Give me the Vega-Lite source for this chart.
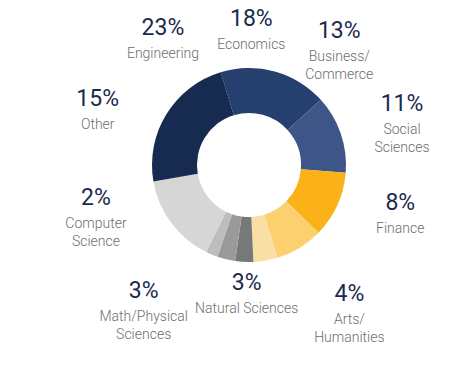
{
  "$schema": "https://vega.github.io/schema/vega-lite/v6.json",
  "autosize": "none",
  "width": 450,
  "height": 330,
  "padding": {"left": 24, "top": 0, "right": 0, "bottom": 40},
  "background": "white",
  "view": {"stroke": null},
  "config": {"font": "Roboto"},
  "data": {"values": [
    {"order": 1, "category": "Economics", "label": "Economics", "share": 0.18},
    {"order": 2, "category": "Business/Commerce", "label": "Business/\nCommerce", "share": 0.13},
    {"order": 3, "category": "Social Sciences", "label": "Social\nSciences", "share": 0.11},
    {"order": 4, "category": "Finance", "label": "Finance", "share": 0.08},
    {"order": 5, "category": "Arts/Humanities", "label": "Arts/\nHumanities", "share": 0.04},
    {"order": 6, "category": "Natural Sciences", "label": "Natural Sciences", "share": 0.03},
    {"order": 7, "category": "Math/Physical Sciences", "label": "Math/Physical\nSciences", "share": 0.03},
    {"order": 8, "category": "Computer Science", "label": "Computer\nScience", "share": 0.02},
    {"order": 9, "category": "Other", "label": "Other", "share": 0.15},
    {"order": 10, "category": "Engineering", "label": "Engineering", "share": 0.23}
  ]},
  "layer": [
    {
      "mark": {"type": "arc", "outerRadius": 97, "innerRadius": 52},
      "encoding": {
        "theta": {"field": "share", "type": "quantitative", "stack": true, "scale": {"range": [-0.2967, 5.9865]}},
        "order": {"field": "order", "type": "quantitative", "sort": "ascending"},
        "color": {"field": "category", "type": "nominal", "legend": null,
          "scale": {
            "domain": ["Economics", "Business/Commerce", "Social Sciences", "Finance", "Arts/Humanities", "Natural Sciences", "Math/Physical Sciences", "Computer Science", "Other", "Engineering"],
            "range": ["#253f6e", "#3d5687", "#fbb118", "#fcd06f", "#f9dfa3", "#777879", "#9a9a9a", "#bdbdbd", "#d6d6d6", "#172b50"]
          }}
      }
    },
    {
      "mark": {"type": "text", "radius": 132, "align": "center", "baseline": "alphabetic", "dy": -7, "fontSize": 23, "color": "#1b2a4e"},
      "encoding": {
        "theta": {"aggregate": "count", "type": "quantitative", "stack": true, "scale": {"range": [-0.2967, 5.9865]}},
        "order": {"field": "order", "type": "quantitative", "sort": "ascending"},
        "text": {"field": "share", "type": "quantitative", "format": ".0%"},
        "opacity": {"condition": {"test": "datum.order == 1 || datum.order == 6", "value": 1}, "value": 0}
      }
    },
    {
      "mark": {"type": "text", "radius": 132, "align": "center", "baseline": "alphabetic", "dy": 16, "fontSize": 14, "fontWeight": 300, "lineHeight": 18, "lineBreak": "\n", "color": "#6e6e6e"},
      "encoding": {
        "theta": {"aggregate": "count", "type": "quantitative", "stack": true, "scale": {"range": [-0.2967, 5.9865]}},
        "order": {"field": "order", "type": "quantitative", "sort": "ascending"},
        "text": {"field": "label", "type": "nominal"},
        "opacity": {"condition": {"test": "datum.order == 1 || datum.order == 6", "value": 1}, "value": 0}
      }
    },
    {
      "mark": {"type": "text", "radius": 150, "align": "center", "baseline": "alphabetic", "dy": -7, "fontSize": 23, "color": "#1b2a4e"},
      "encoding": {
        "theta": {"aggregate": "count", "type": "quantitative", "stack": true, "scale": {"range": [-0.2967, 5.9865]}},
        "order": {"field": "order", "type": "quantitative", "sort": "ascending"},
        "text": {"field": "share", "type": "quantitative", "format": ".0%"},
        "opacity": {"condition": {"test": "datum.order == 2 || datum.order == 10", "value": 1}, "value": 0}
      }
    },
    {
      "mark": {"type": "text", "radius": 150, "align": "center", "baseline": "alphabetic", "dy": 16, "fontSize": 14, "fontWeight": 300, "lineHeight": 18, "lineBreak": "\n", "color": "#6e6e6e"},
      "encoding": {
        "theta": {"aggregate": "count", "type": "quantitative", "stack": true, "scale": {"range": [-0.2967, 5.9865]}},
        "order": {"field": "order", "type": "quantitative", "sort": "ascending"},
        "text": {"field": "label", "type": "nominal"},
        "opacity": {"condition": {"test": "datum.order == 2 || datum.order == 10", "value": 1}, "value": 0}
      }
    },
    {
      "mark": {"type": "text", "radius": 160, "align": "center", "baseline": "alphabetic", "dy": -7, "fontSize": 23, "color": "#1b2a4e"},
      "encoding": {
        "theta": {"aggregate": "count", "type": "quantitative", "stack": true, "scale": {"range": [-0.2967, 5.9865]}},
        "order": {"field": "order", "type": "quantitative", "sort": "ascending"},
        "text": {"field": "share", "type": "quantitative", "format": ".0%"},
        "opacity": {"condition": {"test": "datum.order == 3 || datum.order == 4 || datum.order == 8 || datum.order == 9", "value": 1}, "value": 0}
      }
    },
    {
      "mark": {"type": "text", "radius": 160, "align": "center", "baseline": "alphabetic", "dy": 16, "fontSize": 14, "fontWeight": 300, "lineHeight": 18, "lineBreak": "\n", "color": "#6e6e6e"},
      "encoding": {
        "theta": {"aggregate": "count", "type": "quantitative", "stack": true, "scale": {"range": [-0.2967, 5.9865]}},
        "order": {"field": "order", "type": "quantitative", "sort": "ascending"},
        "text": {"field": "label", "type": "nominal"},
        "opacity": {"condition": {"test": "datum.order == 3 || datum.order == 4 || datum.order == 8 || datum.order == 9", "value": 1}, "value": 0}
      }
    },
    {
      "mark": {"type": "text", "radius": 175, "align": "center", "baseline": "alphabetic", "dy": -7, "fontSize": 23, "color": "#1b2a4e"},
      "encoding": {
        "theta": {"aggregate": "count", "type": "quantitative", "stack": true, "scale": {"range": [-0.2967, 5.9865]}},
        "order": {"field": "order", "type": "quantitative", "sort": "ascending"},
        "text": {"field": "share", "type": "quantitative", "format": ".0%"},
        "opacity": {"condition": {"test": "datum.order == 5 || datum.order == 7", "value": 1}, "value": 0}
      }
    },
    {
      "mark": {"type": "text", "radius": 175, "align": "center", "baseline": "alphabetic", "dy": 16, "fontSize": 14, "fontWeight": 300, "lineHeight": 18, "lineBreak": "\n", "color": "#6e6e6e"},
      "encoding": {
        "theta": {"aggregate": "count", "type": "quantitative", "stack": true, "scale": {"range": [-0.2967, 5.9865]}},
        "order": {"field": "order", "type": "quantitative", "sort": "ascending"},
        "text": {"field": "label", "type": "nominal"},
        "opacity": {"condition": {"test": "datum.order == 5 || datum.order == 7", "value": 1}, "value": 0}
      }
    }
  ],
  "resolve": {"scale": {"theta": "independent"}}
}
